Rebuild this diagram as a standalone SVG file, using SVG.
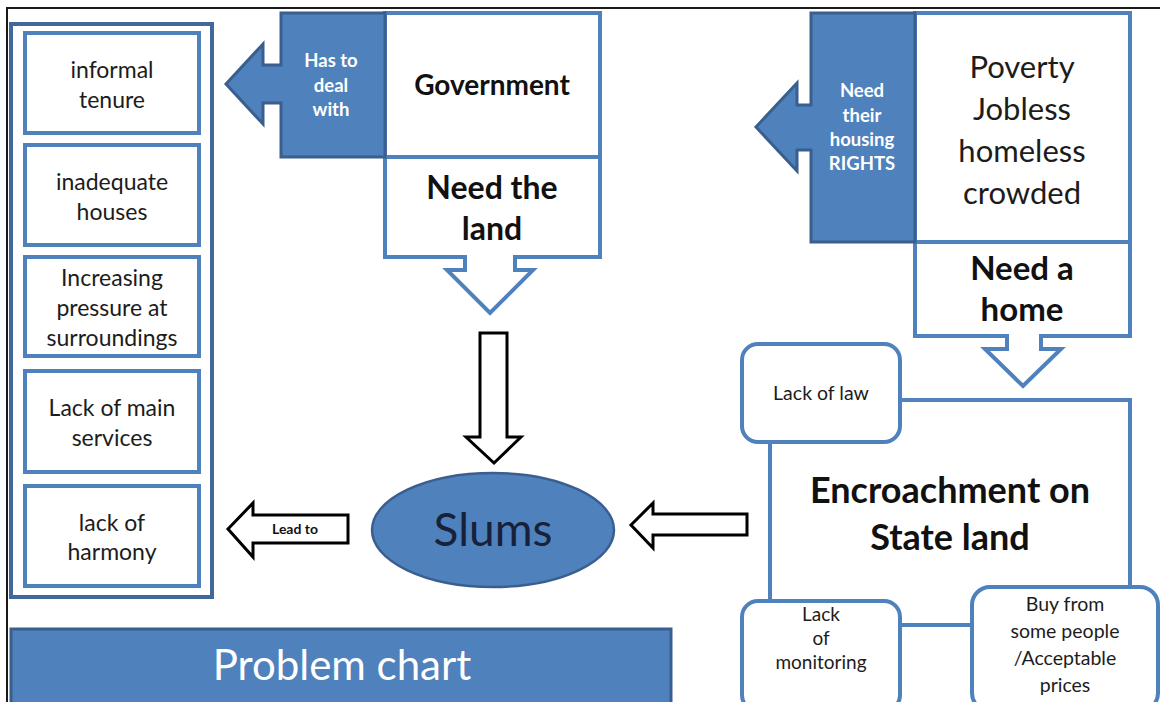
<svg xmlns="http://www.w3.org/2000/svg" width="1160" height="702" viewBox="0 0 1160 702">
  <style>
    .t { font-family: Lato, "Liberation Sans", sans-serif; fill: #1c1c1c; text-anchor: middle; }
    .b { font-weight: bold; fill: #111111; }
    .w { fill: #ffffff; font-weight: bold; }
    .box { fill: #ffffff; stroke: #4f81bd; stroke-width: 4; }
    .panel { fill: #ffffff; stroke: #41689a; stroke-width: 4; }
    .dark { fill: #4f81bd; stroke: #3a5f8f; stroke-width: 3; stroke-linejoin: miter; }
    .blk { fill: #ffffff; stroke: #000000; stroke-width: 3; stroke-linejoin: miter; }
  </style>

  <rect width="1160" height="702" fill="#ffffff"/>
  <!-- outer frame -->
  <path d="M7,702 V8 H1160" fill="none" stroke="#1a1a1a" stroke-width="2"/>

  <!-- left column of consequences -->
  <g id="consequences">
    <rect class="panel" x="11" y="24" width="201" height="573"/>
    <g id="informal-tenure">
      <rect class="box" x="25" y="33" width="174" height="100"/>
      <text class="t" x="112" y="78" font-size="23">informal</text>
      <text class="t" x="112" y="108" font-size="23">tenure</text>
    </g>
    <g id="inadequate-houses">
      <rect class="box" x="25" y="145" width="174" height="100"/>
      <text class="t" x="112" y="190" font-size="23">inadequate</text>
      <text class="t" x="112" y="220" font-size="23">houses</text>
    </g>
    <g id="increasing-pressure">
      <rect class="box" x="25" y="257" width="174" height="99"/>
      <text class="t" x="112" y="286" font-size="23">Increasing</text>
      <text class="t" x="112" y="316" font-size="23">pressure at</text>
      <text class="t" x="112" y="346" font-size="23">surroundings</text>
    </g>
    <g id="lack-services">
      <rect class="box" x="25" y="371" width="174" height="101"/>
      <text class="t" x="112" y="416" font-size="23">Lack of main</text>
      <text class="t" x="112" y="446" font-size="23">services</text>
    </g>
    <g id="lack-harmony">
      <rect class="box" x="25" y="486" width="174" height="100"/>
      <text class="t" x="112" y="531" font-size="23">lack of</text>
      <text class="t" x="112" y="560" font-size="23">harmony</text>
    </g>
  </g>

  <!-- government block -->
  <g id="government">
    <path class="box" d="M385,13 H600 V257 H515 V270 H533 L490,313 L447,270 H465 V257 H385 Z"/>
    <line x1="385" y1="157" x2="600" y2="157" stroke="#4f81bd" stroke-width="4"/>
    <path class="dark" d="M385,13 V157 H281 V103 H263 V124 L226,84 L263,44 V65 H281 V13 Z"/>
    <text class="t w" x="331" y="67" font-size="18.5">Has to</text>
    <text class="t w" x="331" y="92" font-size="18.5">deal</text>
    <text class="t w" x="331" y="116" font-size="18.5">with</text>
    <text class="t b" x="492" y="95" font-size="28">Government</text>
    <text class="t b" x="492" y="199" font-size="32">Need the</text>
    <text class="t b" x="492" y="240" font-size="32">land</text>
  </g>

  <!-- people block -->
  <g id="people">
    <path class="box" d="M915,13 H1130 V336 H1041 V349 H1061 L1023,386 L985,349 H1007 V336 H915 Z"/>
    <line x1="915" y1="242" x2="1130" y2="242" stroke="#4f81bd" stroke-width="4"/>
    <path class="dark" d="M915,13 V242 H811 V150 H797 V171 L756,127 L797,83 V105 H811 V13 Z"/>
    <text class="t w" x="862" y="97" font-size="18.5">Need</text>
    <text class="t w" x="862" y="122" font-size="18.5">their</text>
    <text class="t w" x="862" y="146" font-size="18.5">housing</text>
    <text class="t w" x="862" y="170" font-size="18.5">RIGHTS</text>
    <text class="t" x="1022" y="78" font-size="31">Poverty</text>
    <text class="t" x="1022" y="120" font-size="31">Jobless</text>
    <text class="t" x="1022" y="162" font-size="31">homeless</text>
    <text class="t" x="1022" y="204" font-size="31">crowded</text>
    <text class="t b" x="1022" y="280" font-size="33">Need a</text>
    <text class="t b" x="1022" y="321" font-size="33">home</text>
  </g>

  <!-- encroachment block -->
  <g id="encroachment">
    <rect class="box" x="770" y="400" width="360" height="225"/>
    <text class="t b" x="950" y="503" font-size="36">Encroachment on</text>
    <text class="t b" x="950" y="550" font-size="36">State land</text>
  </g>
  <g id="lack-of-law">
    <rect class="box" x="742" y="344" width="158" height="98" rx="16"/>
    <text class="t" x="821" y="400" font-size="19.5">Lack of law</text>
  </g>
  <g id="lack-of-monitoring">
    <rect class="box" x="742" y="601" width="158" height="110" rx="16"/>
    <text class="t" x="821" y="621" font-size="19">Lack</text>
    <text class="t" x="821" y="645" font-size="19">of</text>
    <text class="t" x="821" y="669" font-size="19">monitoring</text>
  </g>
  <g id="buy-from-people">
    <rect class="box" x="972" y="587" width="186" height="124" rx="18"/>
    <text class="t" x="1065" y="611" font-size="19.5">Buy from</text>
    <text class="t" x="1065" y="638" font-size="19.5">some people</text>
    <text class="t" x="1065" y="665" font-size="19.5">/Acceptable</text>
    <text class="t" x="1065" y="692" font-size="19.5">prices</text>
  </g>

  <!-- central node -->
  <g id="slums">
    <ellipse cx="493" cy="530" rx="121" ry="57" fill="#4f81bd" stroke="#3a5f8f" stroke-width="2.5"/>
    <text class="t" x="493" y="546" font-size="46" style="fill:#17223a">Slums</text>
  </g>

  <!-- title bar -->
  <g id="title">
    <rect x="11" y="629" width="660" height="80" fill="#4f81bd" stroke="#3a5f8f" stroke-width="3"/>
    <text class="t" x="342" y="680" font-size="42" style="fill:#ffffff">Problem chart</text>
  </g>

  <!-- connectors -->
  <g id="connectors">
    <path class="blk" d="M480,333 H507 V437 H521 L494,463 L466,437 H480 Z"/>
    <path class="blk" d="M747,514 V535 H653 V548 L631,525 L653,503 V514 Z"/>
    <path class="blk" d="M348,515 V543 H253 V557 L228,529 L253,503 V515 Z"/>
    <text class="t b" x="295" y="534" font-size="14">Lead to</text>
  </g>
</svg>
